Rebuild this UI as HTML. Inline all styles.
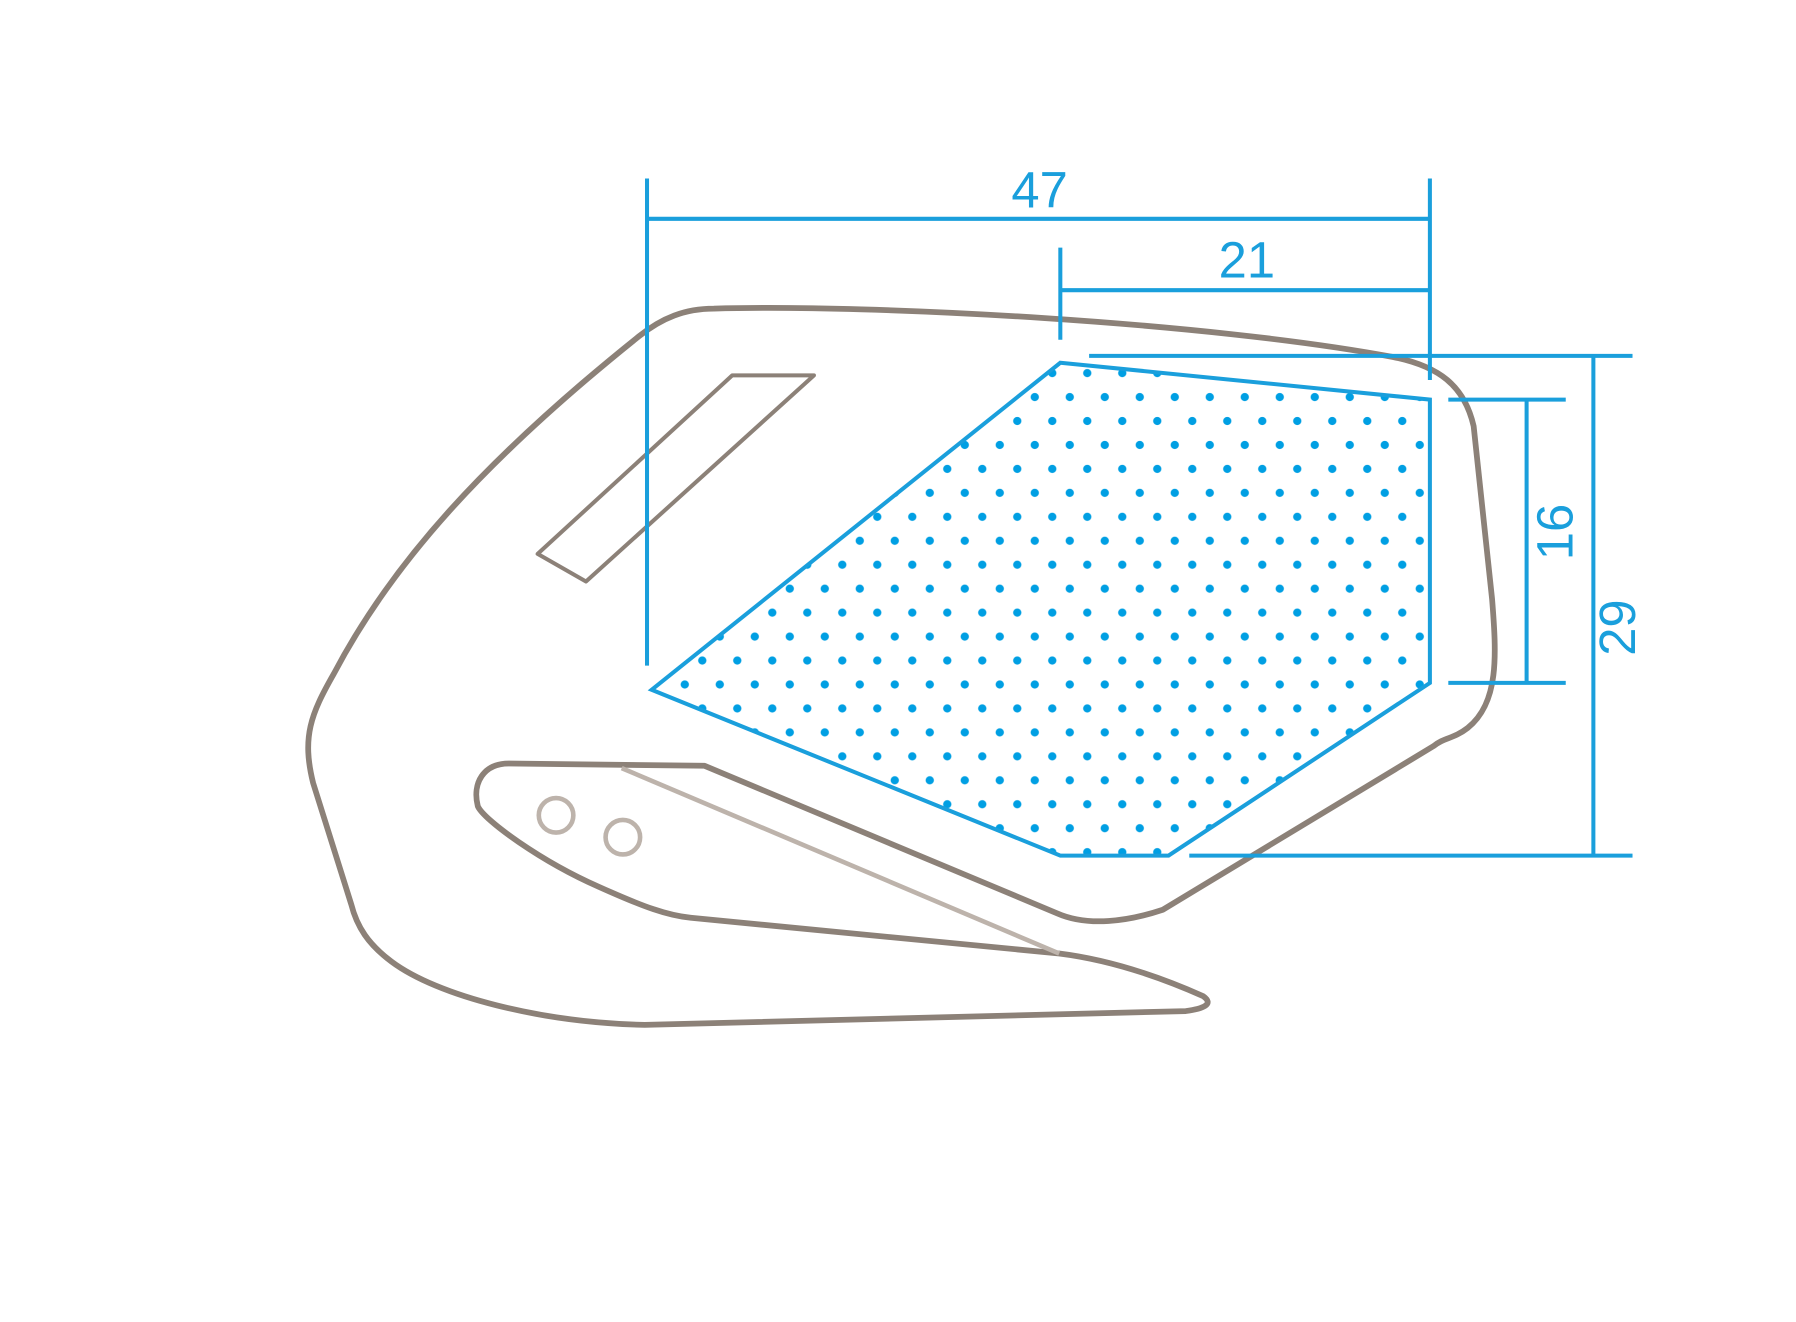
<!DOCTYPE html>
<html><head><meta charset="utf-8"><style>
html,body{margin:0;padding:0;background:#fff;}
svg{display:block;}
text{font-family:"Liberation Sans",sans-serif;fill:#1a9fdc;font-size:44px;}
</style></head><body>
<svg width="1796" height="1322" viewBox="0 0 1560 1148" preserveAspectRatio="none" xmlns="http://www.w3.org/2000/svg">
<defs>
<pattern id="dots" x="914" y="324" width="30.4" height="41.6" patternUnits="userSpaceOnUse">
<circle cx="0" cy="0" r="3.6" fill="#009fe3"/><circle cx="30.4" cy="0" r="3.6" fill="#009fe3"/>
<circle cx="0" cy="41.6" r="3.6" fill="#009fe3"/><circle cx="30.4" cy="41.6" r="3.6" fill="#009fe3"/>
<circle cx="15.2" cy="20.8" r="3.6" fill="#009fe3"/>
</pattern>
</defs>
<path d="M 620,268 C 760,264 1050,280 1210,310 C 1250,318 1272,335 1280,370 L 1296,520 C 1300,570 1302,610 1275,632 C 1262,642 1255,640 1245,648 L 1010,790 C 980,800 945,805 918,793 L 612,665 L 442,663 C 420,663 410,680 415,700 C 420,712 470,748 520,770 C 560,788 580,795 600,797 L 920,828 C 960,833 1000,845 1045,865 C 1055,872 1045,876 1030,878 L 560,890 C 470,888 380,865 340,835 C 320,820 310,805 305,785 L 272,680 C 262,640 270,620 290,585 C 340,490 420,400 555,292 C 575,276 595,268 620,268 Z" fill="none" stroke="#8c8178" stroke-width="5" stroke-linejoin="round"/>
<path d="M 636,326 L 707,326 L 509,505 L 467,481 Z" fill="none" stroke="#8c8178" stroke-width="3.5" stroke-linejoin="round"/>
<line x1="540" y1="667" x2="920" y2="828" stroke="#bdb3ab" stroke-width="4"/>
<circle cx="483" cy="708" r="15" fill="none" stroke="#bdb3ab" stroke-width="4"/>
<circle cx="541" cy="727" r="15" fill="none" stroke="#bdb3ab" stroke-width="4"/>
<polygon points="921,315 1242,347 1242,593 1015,743 921,743 566,599" fill="url(#dots)" stroke="#1a9fdc" stroke-width="3.5" stroke-linejoin="miter"/>
<g stroke="#1a9fdc" stroke-width="3.5" fill="none">
<line x1="562" y1="190" x2="1242" y2="190"/>
<line x1="562" y1="155" x2="562" y2="578"/>
<line x1="1242" y1="155" x2="1242" y2="330"/>
<line x1="921" y1="252" x2="1242" y2="252"/>
<line x1="921" y1="215" x2="921" y2="295"/>
<line x1="946" y1="309" x2="1418" y2="309"/>
<line x1="1033" y1="743" x2="1418" y2="743"/>
<line x1="1384" y1="309" x2="1384" y2="743"/>
<line x1="1258" y1="347" x2="1360" y2="347"/>
<line x1="1258" y1="593" x2="1360" y2="593"/>
<line x1="1326" y1="347" x2="1326" y2="593"/>
</g>
<text x="903" y="180" text-anchor="middle">47</text>
<text x="1083" y="241" text-anchor="middle">21</text>
<text transform="translate(1366,462) rotate(-90)" text-anchor="middle">16</text>
<text transform="translate(1420,545) rotate(-90)" text-anchor="middle">29</text>
</svg>
</body></html>
